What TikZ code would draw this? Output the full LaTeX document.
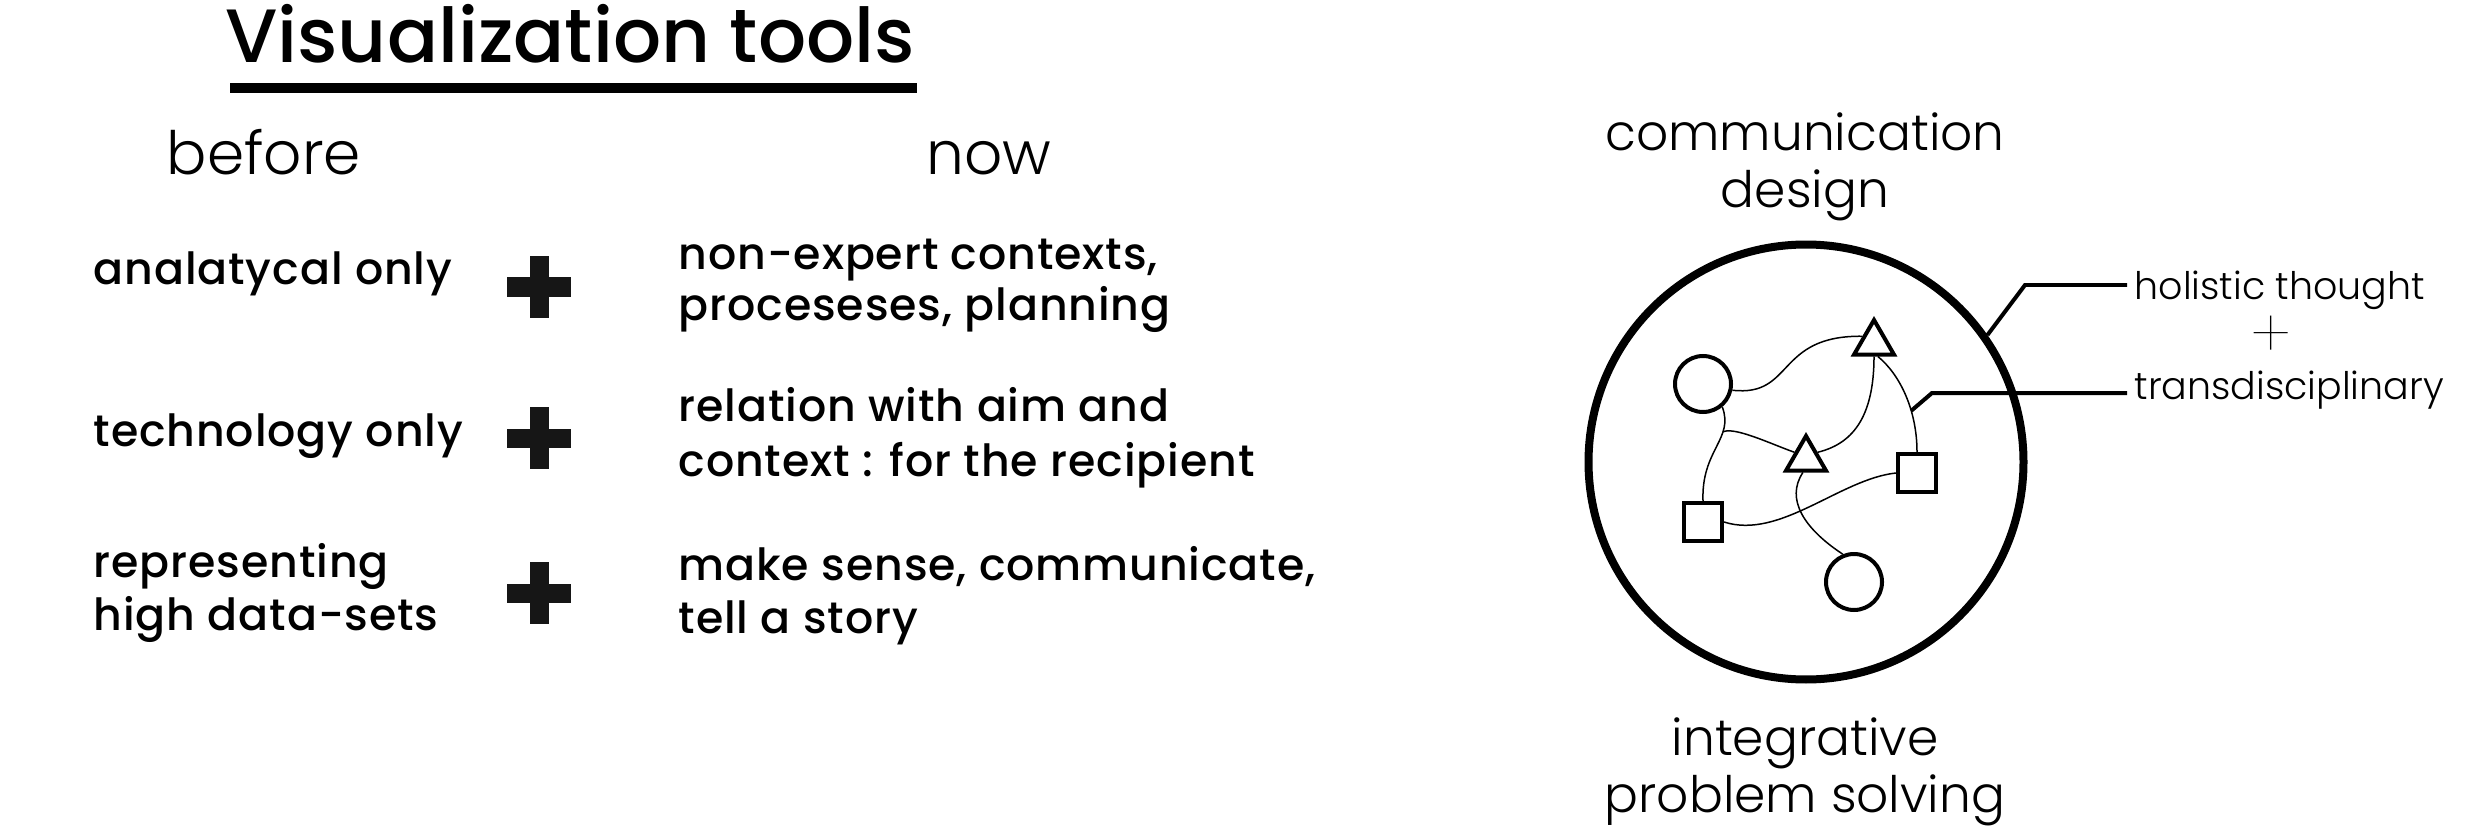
\documentclass[tikz,border=0pt]{standalone}
\usepackage{fontspec}
\setmainfont{Poppins}
\IfFontExistsTF{Poppins Light}{\newfontfamily\lightfont{Poppins Light}}{\newfontfamily\lightfont{Poppins}}
\IfFontExistsTF{Poppins Thin}{\newfontfamily\thinfont{Poppins Thin}}{\newfontfamily\thinfont{Poppins}}
\IfFontExistsTF{Poppins Medium}{\newfontfamily\medfont{Poppins Medium}[LetterSpace=2]}{\newfontfamily\medfont{Poppins}[LetterSpace=2]}
\IfFontExistsTF{Poppins Medium}{\newfontfamily\titlefont{Poppins Medium}}{\newfontfamily\titlefont{Poppins}}
\usetikzlibrary{shapes.geometric}

\definecolor{crossgray}{HTML}{161616}

\tikzset{
  titletext/.style={anchor=base, inner sep=0pt, font=\titlefont\fontsize{21.5}{26}\selectfont},
  head/.style={anchor=base, inner sep=0pt, font=\lightfont\fontsize{17}{20}\selectfont},
  body/.style={anchor=base west, inner sep=0pt, font=\medfont\fontsize{12.6}{15}\selectfont},
  softtext/.style={anchor=base, inner sep=0pt, font=\lightfont\fontsize{14.3}{17}\selectfont},
  tag/.style={anchor=base west, inner xsep=0.7mm, inner ysep=0pt, font=\lightfont\fontsize{10.8}{13}\selectfont},
  tagplus/.style={inner sep=0pt, font=\thinfont\fontsize{19}{20}\selectfont},
  ring/.style={circle, draw, line width=0.8mm, minimum size=43.5mm, inner sep=0pt},
  roundnode/.style={circle, draw, line width=0.4mm, minimum size=5.6mm, inner sep=0pt},
  boxnode/.style={rectangle, draw, line width=0.4mm, minimum size=3.8mm, inner sep=0pt},
  trinode/.style={regular polygon, regular polygon sides=3, draw, line width=0.4mm, minimum size=4.6mm, inner sep=0pt},
  link/.style={line width=0.15mm},
  leader/.style={line width=0.4mm},
}

\begin{document}
\begin{tikzpicture}[x=0.1mm, y=-0.1mm]
\useasboundingbox (0,0) rectangle (2480,828);

% title
\node[titletext] (title) at (570,63) {Visualization tools};
\draw[line width=1mm] (230,88) -- (917,88);

\node[head] (before) at (264,175) {before};
\node[head] (now) at (989,175) {now};

% before column
\node[body] (b1) at (93,285) {analatycal only};
\node[body] (b2) at (93,446) {technology only};
\node[body] (b3a) at (93,577) {representing};
\node[body] (b3b) at (93,630) {high data-sets};

% plus signs
\foreach \y in {287,438,593}{
  \fill[crossgray] (507,\y-9.5) rectangle (571,\y+9.5);
  \fill[crossgray] (529.5,\y-31) rectangle (548.5,\y+31);
}

% now column
\node[body] (n1a) at (678,270) {non-expert contexts,};
\node[body] (n1b) at (678,320) {proceseses, planning};
\node[body] (n2a) at (678,421) {relation with aim and};
\node[body] (n2b) at (678,476) {context : for the recipient};
\node[body] (n3a) at (678,580) {make sense, communicate,};
\node[body] (n3b) at (678,633) {tell a story};

% circle and labels
\node[ring] (ring) at (1806,462) {};
\node[softtext] (cd1) at (1805,151) {communication};
\node[softtext] (cd2) at (1805,207) {design};
\node[softtext] (ip1) at (1805,755) {integrative};
\node[softtext] (ip2) at (1805,812) {problem solving};

\node[roundnode] (c1) at (1703,384) {};
\node[roundnode] (c2) at (1854,582) {};
\node[trinode] (t1) at (1874,343) {};
\node[trinode] (t2) at (1806,459) {};
\node[boxnode] (s1) at (1917,473) {};
\node[boxnode] (s2) at (1703,522) {};

% links
\draw[link] (c1.-12) .. controls +(62,7) and +(-87,-1) .. (t1.side 1);
\draw[link] (c1.-50) .. controls +(12,32) and +(-2,-51) .. (s2.north) coordinate[pos=0.3] (fork);
\draw[link] (fork) .. controls +(12,-5) and +(-25,-9) .. (t2.side 1);
\draw[link] (t1.side 2) .. controls +(0,63) and +(33,-8) .. (t2.side 3);
\draw[link] (t1.-74) .. controls +(22,18) and +(0,-42) .. (s1.north) coordinate[pos=0.65] (tap);
\draw[link] (s2.east) .. controls +(56,18) and +(-56,6) .. (s1.west);
\draw[link] (t2.-103) .. controls +(-18,27) and +(-38,-25) .. (c2.112);

% leaders
\coordinate (kneeA) at (2025,285);
\coordinate (kneeB) at (1932,393);
\node[tag] (holistic) at (2127,300) {holistic thought};
\node[tagplus] (plus) at (2271,337) {+};
\node[tag] (trans) at (2127,400) {transdisciplinary};
\draw[leader] (ring.35) -- (kneeA) -- (kneeA -| holistic.west);
\draw[leader] (tap) -- (kneeB) -- (kneeB -| trans.west);
\end{tikzpicture}
\end{document}
